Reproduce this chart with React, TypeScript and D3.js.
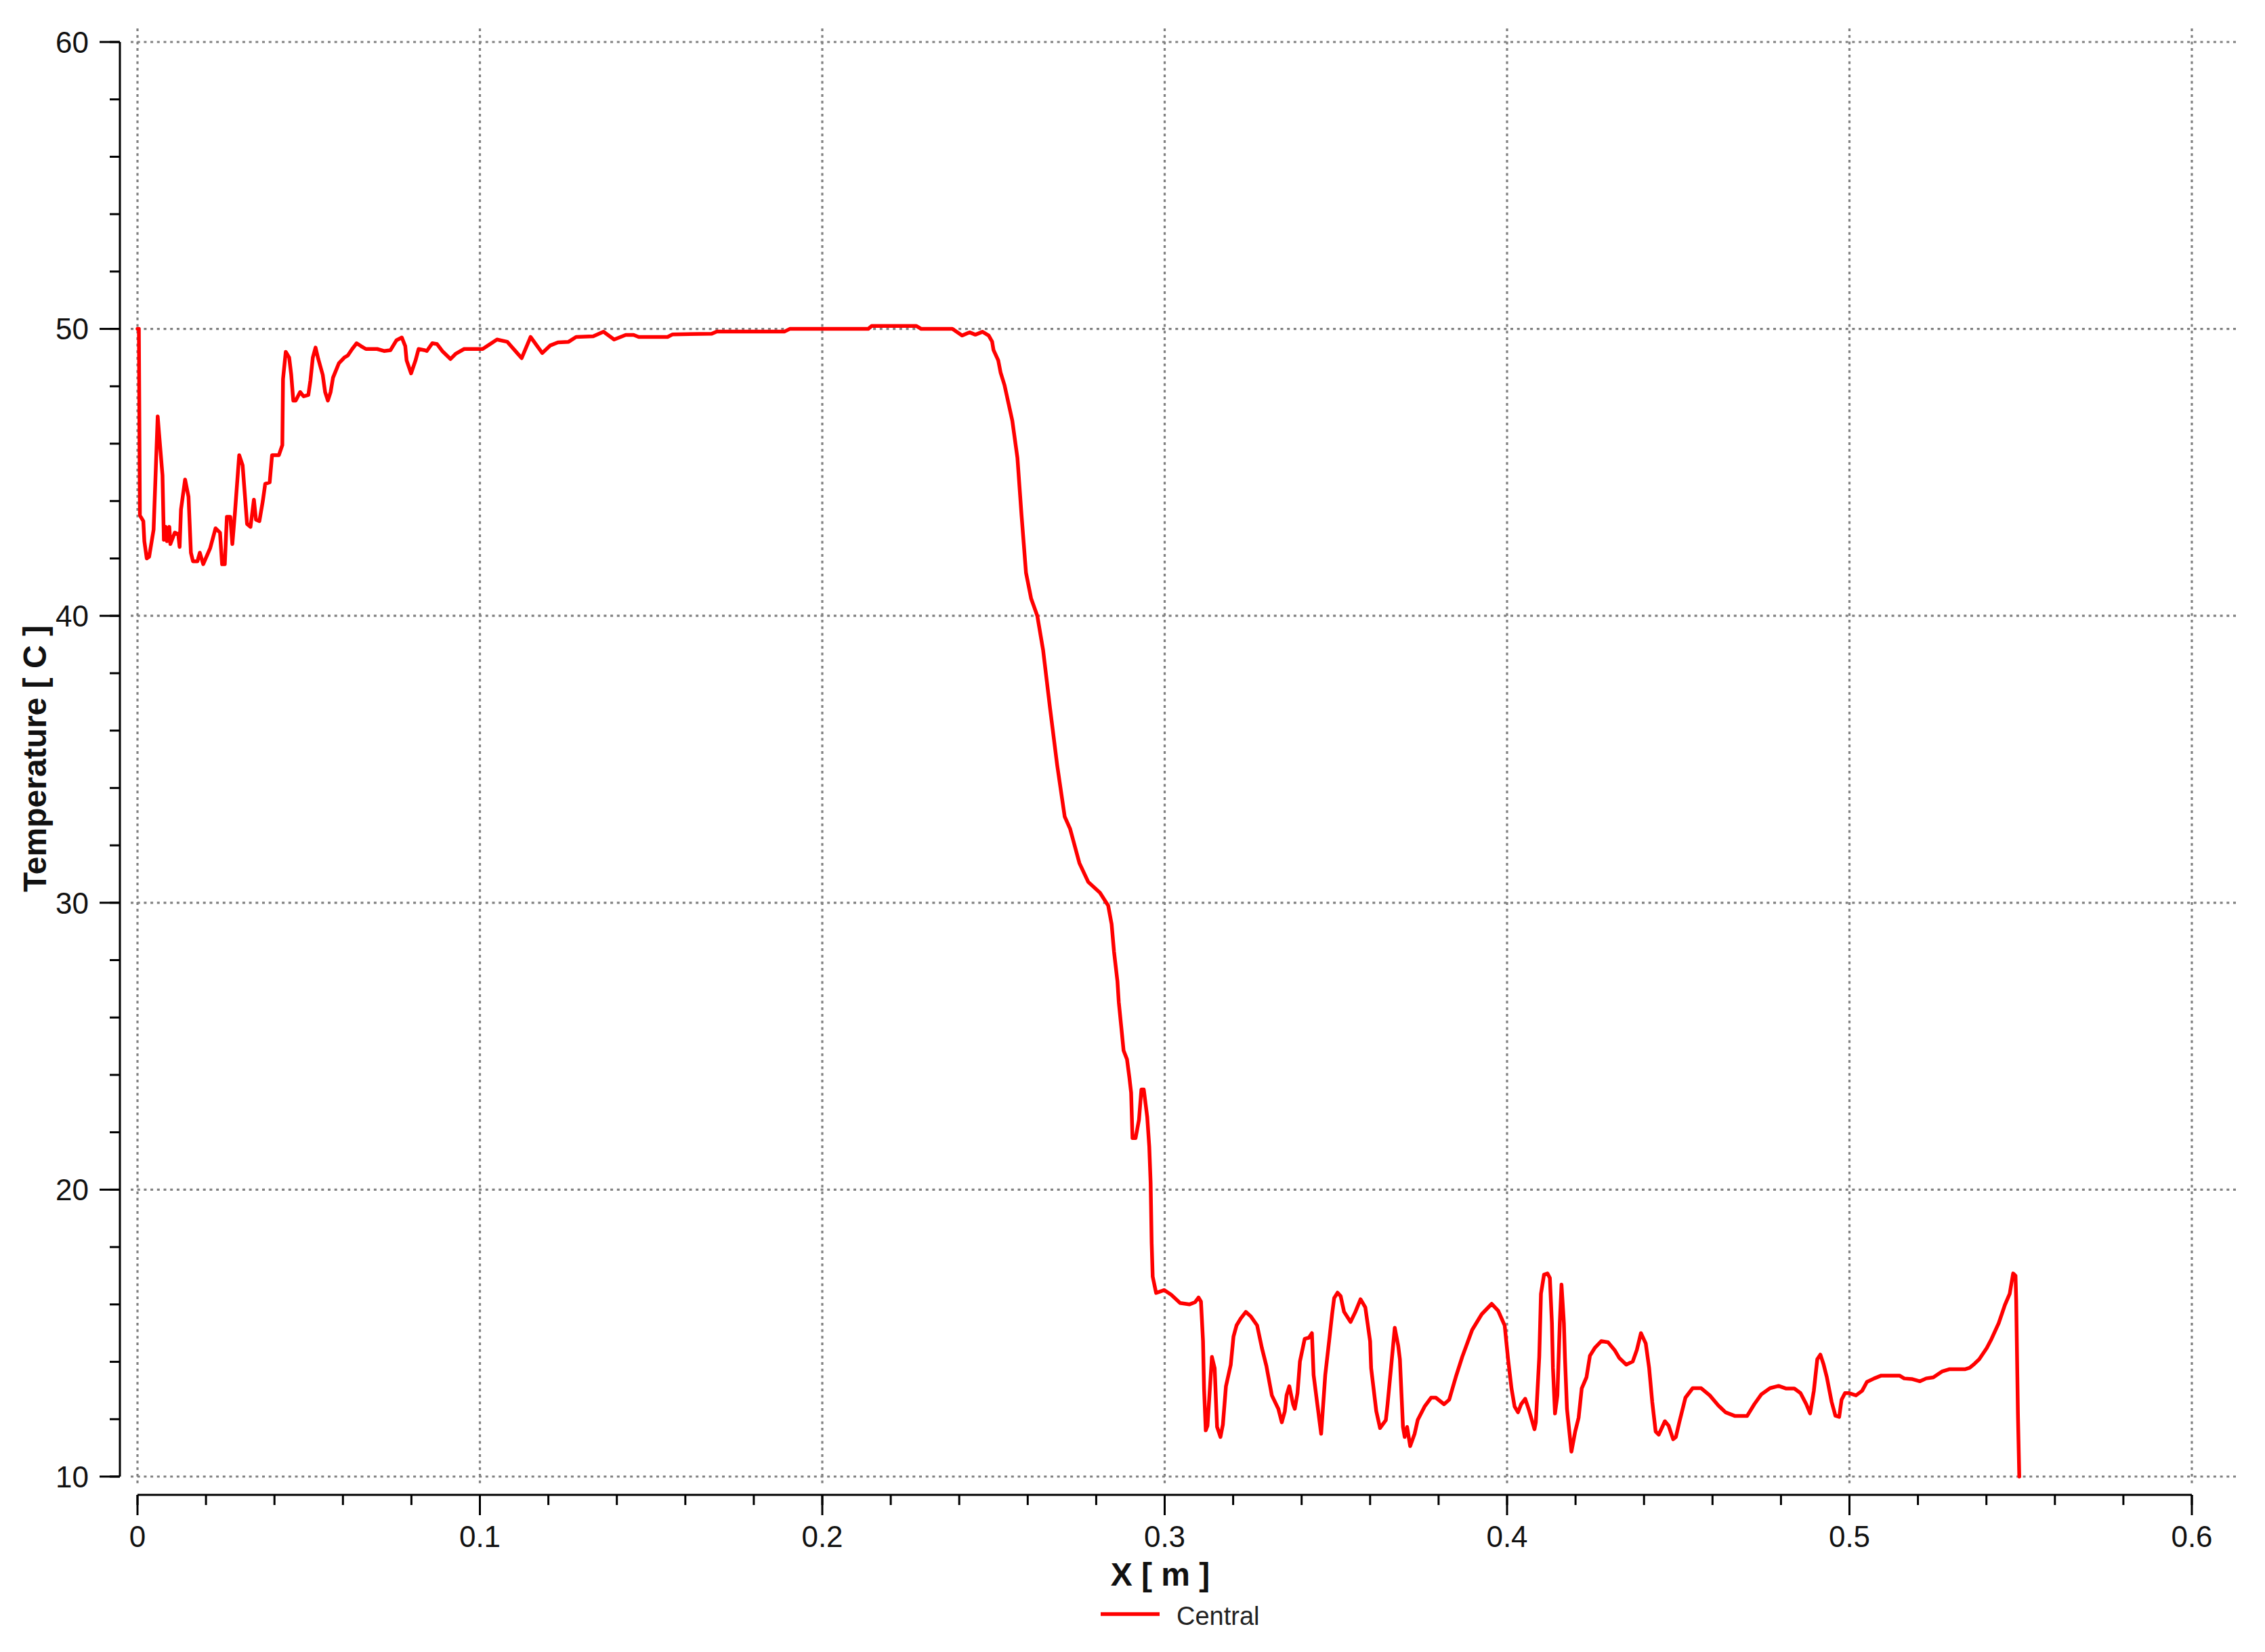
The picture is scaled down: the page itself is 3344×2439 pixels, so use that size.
import React from "react";
import * as d3 from "d3";

// ---- Data ----
const positionM: number[] = [
  0.0, 0.0004, 0.0007, 0.0017, 0.002, 0.0027, 0.0034, 0.0047, 0.0059, 0.0063,
  0.0073, 0.0077, 0.0083, 0.0086, 0.0093, 0.0096, 0.0109, 0.0119, 0.0123, 0.0127,
  0.0139, 0.0149, 0.0156, 0.0162, 0.0175, 0.0182, 0.0192, 0.0212, 0.0228, 0.0241,
  0.0247, 0.0255, 0.0261, 0.0271, 0.0277, 0.0284, 0.0297, 0.0307, 0.0314, 0.032,
  0.033, 0.034, 0.0346, 0.0356, 0.0366, 0.0373, 0.0386, 0.0393, 0.0413, 0.0423,
  0.0425, 0.0433, 0.0443, 0.0449, 0.0455, 0.0462, 0.0475, 0.0485, 0.0499, 0.0505,
  0.0512, 0.052, 0.0528, 0.0541, 0.0548, 0.0556, 0.0564, 0.0571, 0.0588, 0.0604,
  0.0614, 0.0627, 0.064, 0.0653, 0.0667, 0.07, 0.072, 0.0739, 0.0756, 0.0772,
  0.0782, 0.0786, 0.0799, 0.0812, 0.0821, 0.0838, 0.0845, 0.0861, 0.0875, 0.089,
  0.0914, 0.093, 0.0954, 0.1008, 0.105, 0.108, 0.1122, 0.1148, 0.1182, 0.1205,
  0.1228, 0.1259, 0.1281, 0.1331, 0.1361, 0.1392, 0.1426, 0.1449, 0.1464, 0.1548,
  0.1563, 0.1677, 0.1692, 0.189, 0.1905, 0.2134, 0.2144, 0.2275, 0.2289, 0.238,
  0.2408, 0.243, 0.2447, 0.2468, 0.2486, 0.2496, 0.25, 0.2514, 0.2521, 0.2532,
  0.2555, 0.257, 0.2582, 0.2595, 0.261, 0.2628, 0.2645, 0.2665, 0.2686, 0.2708,
  0.2724, 0.2751, 0.2777, 0.2811, 0.2835, 0.2845, 0.2852, 0.2862, 0.2866, 0.2873,
  0.288, 0.289, 0.2897, 0.2902, 0.2906, 0.2915, 0.2925, 0.2932, 0.2939, 0.2949,
  0.2955, 0.2959, 0.2962, 0.2965, 0.2975, 0.2999, 0.3019, 0.3045, 0.3072, 0.3089,
  0.3099, 0.3106, 0.3112, 0.3115, 0.312, 0.3125, 0.3138, 0.3146, 0.3153, 0.3163,
  0.317, 0.3179, 0.3193, 0.3201, 0.321, 0.3222, 0.3237, 0.3251, 0.327, 0.3284,
  0.3297, 0.3313, 0.3332, 0.3342, 0.3351, 0.3356, 0.3364, 0.3375, 0.338, 0.3388,
  0.3395, 0.3409, 0.3421, 0.343, 0.3435, 0.3445, 0.3457, 0.3469, 0.3481, 0.3489,
  0.3495, 0.3505, 0.3514, 0.3524, 0.3543, 0.3557, 0.3572, 0.3586, 0.36, 0.3603,
  0.3618, 0.3629, 0.3646, 0.3651, 0.3661, 0.3672, 0.3682, 0.3687, 0.3696, 0.3701,
  0.3708, 0.3717, 0.373, 0.3739, 0.3759, 0.3778, 0.3792, 0.3816, 0.3831, 0.385,
  0.3869, 0.3898, 0.3926, 0.3955, 0.3974, 0.3993, 0.4003, 0.4013, 0.4022, 0.4032,
  0.4041, 0.4053, 0.4065, 0.408, 0.4084, 0.4094, 0.4099, 0.4108, 0.4118, 0.4125,
  0.4131, 0.4134, 0.414, 0.4147, 0.4154, 0.4159, 0.4166, 0.4169, 0.4175, 0.4188,
  0.4199, 0.4209, 0.4218, 0.4232, 0.4242, 0.4256, 0.4275, 0.4295, 0.4314, 0.4328,
  0.4348, 0.4367, 0.4379, 0.4391, 0.4405, 0.4415, 0.4424, 0.4434, 0.4443, 0.4461,
  0.4472, 0.4485, 0.4493, 0.4503, 0.4521, 0.4542, 0.4567, 0.4592, 0.4617, 0.4638,
  0.4666, 0.4701, 0.4722, 0.4743, 0.4768, 0.4793, 0.4814, 0.4839, 0.4857, 0.4874,
  0.4885, 0.4896, 0.4906, 0.4915, 0.4924, 0.4934, 0.4948, 0.4959, 0.497, 0.4977,
  0.4987, 0.4998, 0.5019, 0.5037, 0.5051, 0.5072, 0.5093, 0.5146, 0.516, 0.5182,
  0.5206, 0.5224, 0.5245, 0.527, 0.5291, 0.5337, 0.5351, 0.5365, 0.5379, 0.5401,
  0.5415, 0.5436, 0.5454, 0.5468, 0.5478, 0.5485, 0.5487, 0.5492, 0.5496,
];

const temperatureC: number[] = [
  50.0, 50.0, 43.5, 43.3, 42.6, 42.0, 42.06, 43.0, 46.95, 46.35,
  44.9, 42.65, 43.1, 42.6, 43.1, 42.5, 42.9, 42.85, 42.4, 43.7,
  44.75, 44.15, 42.2, 41.9, 41.9, 42.2, 41.8, 42.35, 43.05, 42.9,
  41.8, 41.8, 43.45, 43.45, 42.5, 43.5, 45.6, 45.25, 44.15, 43.2,
  43.1, 44.05, 43.35, 43.3, 44.0, 44.6, 44.65, 45.6, 45.6, 45.95,
  48.25, 49.2, 49.0, 48.4, 47.5, 47.5, 47.8, 47.65, 47.7, 48.2,
  49.0, 49.35, 48.95, 48.4, 47.8, 47.5, 47.8, 48.3, 48.8, 49.0,
  49.07, 49.3, 49.5, 49.4, 49.3, 49.3, 49.23, 49.26, 49.6, 49.7,
  49.4, 48.9, 48.45, 48.9, 49.3, 49.26, 49.23, 49.5, 49.47, 49.23,
  48.95, 49.14, 49.3, 49.3, 49.63, 49.55, 48.98, 49.72, 49.16, 49.42,
  49.53, 49.55, 49.72, 49.74, 49.9, 49.63, 49.79, 49.79, 49.72, 49.72,
  49.81, 49.83, 49.91, 49.91, 50.0, 50.0, 50.1, 50.1, 50.0, 50.0,
  49.77, 49.88, 49.8, 49.9, 49.77, 49.56, 49.27, 48.9, 48.47, 48.05,
  46.8, 45.5, 43.5, 41.5, 40.6, 40.0, 38.8, 36.8, 34.8, 33.0,
  32.57, 31.38, 30.72, 30.35, 29.9, 29.26, 28.3, 27.27, 26.53, 25.7,
  24.85, 24.54, 23.9, 23.38, 21.8, 21.8, 22.44, 23.49, 23.49, 22.54,
  21.5, 20.23, 18.13, 16.97, 16.4, 16.5, 16.34, 16.05, 16.0, 16.08,
  16.24, 16.1, 14.72, 13.07, 11.61, 11.77, 14.17, 13.78, 11.73, 11.38,
  11.81, 13.15, 13.9, 14.88, 15.27, 15.51, 15.74, 15.59, 15.27, 14.48,
  13.86, 12.83, 12.36, 11.89, 12.28, 12.83, 13.15, 12.52, 12.36, 12.91,
  14.01, 14.8, 14.84, 15.0, 13.54, 12.6, 11.49, 13.54, 14.8, 15.66,
  16.22, 16.41, 16.29, 15.74, 15.39, 15.74, 16.18, 15.9, 14.72, 13.78,
  12.28, 11.69, 11.97, 12.52, 13.78, 15.19, 14.57, 14.09, 11.73, 11.38,
  11.73, 11.06, 11.49, 11.97, 12.44, 12.75, 12.75, 12.52, 12.68, 13.46,
  14.17, 15.11, 15.66, 16.02, 15.78, 15.27, 14.09, 13.07, 12.44, 12.24,
  12.52, 12.71, 12.28, 11.65, 11.89, 14.17, 16.37, 17.04, 17.08, 16.92,
  15.35, 13.78, 12.2, 12.83, 15.35, 16.69, 15.35, 14.17, 12.36, 10.87,
  11.57, 12.05, 13.07, 13.46, 14.21, 14.48, 14.72, 14.68, 14.41, 14.13,
  13.9, 14.01, 14.41, 15.0, 14.64, 13.78, 12.6, 11.57, 11.46, 11.93,
  11.77, 11.3, 11.38, 11.89, 12.75, 13.08, 13.08, 12.83, 12.48, 12.24,
  12.11, 12.11, 12.52, 12.87, 13.08, 13.16, 13.07, 13.07, 12.91, 12.52,
  12.2, 12.99, 14.09, 14.25, 13.93, 13.46, 12.6, 12.12, 12.08, 12.68,
  12.91, 12.91, 12.83, 12.99, 13.3, 13.42, 13.52, 13.52, 13.42, 13.4,
  13.32, 13.42, 13.46, 13.66, 13.74, 13.74, 13.79, 13.93, 14.09, 14.48,
  14.8, 15.35, 15.98, 16.37, 17.08, 17.0, 16.14, 12.2, 10.0,
];

const xMajorTicks: number[] = [0, 0.1, 0.2, 0.3, 0.4, 0.5, 0.6];
const xTickLabels: string[] = ["0", "0.1", "0.2", "0.3", "0.4", "0.5", "0.6"];
const yMajorTicks: number[] = [10, 20, 30, 40, 50, 60];
const yTickLabels: string[] = ["10", "20", "30", "40", "50", "60"];
const seriesName = "Central";
const xTitle = "X [ m ]";
const yTitle = "Temperature [ C ]";

const FONT = "'Liberation Sans', Arial, sans-serif";

export default function App() {
  const W = 3344;
  const H = 2439;
  const x = d3.scaleLinear().domain([0, 0.6]).range([203, 3236]);
  const y = d3.scaleLinear().domain([10, 60]).range([2180, 62]);
  const xMinor = x.ticks(30);
  const yMinor = y.ticks(25);

  const axisX = 177; // y-axis line position
  const axisY = 2207; // x-axis line position

  const pts: [number, number][] = positionM.map((p, i) => [p, temperatureC[i]]);
  const line = d3
    .line<[number, number]>()
    .x((d) => x(d[0]))
    .y((d) => y(d[1]));

  const gridColor = "#808080";
  const gridDash = "4 5.7";

  const gxMin = x(0) - 10;
  const gxMax = x(0.6) + 66;
  const gyMin = y(60) - 20;
  const gyMax = y(10) + 10;

  return (
    <svg
      width={W}
      height={H}
      viewBox={`0 0 ${W} ${H}`}
      style={{ position: "absolute", left: 0, top: 0, display: "block", background: "#fff" }}
    >
      <rect x={0} y={0} width={W} height={H} fill="#fff" />
      {/* grid */}
      <g>
        {yMajorTicks.map((v) => (
          <line
            key={"gy" + v}
            x1={gxMin}
            x2={gxMax}
            y1={y(v)}
            y2={y(v)}
            stroke={gridColor}
            strokeWidth={3.2}
            strokeDasharray={gridDash}
          />
        ))}
        {xMajorTicks.map((v) => (
          <line
            key={"gx" + v}
            x1={x(v)}
            x2={x(v)}
            y1={gyMin}
            y2={gyMax}
            stroke={gridColor}
            strokeWidth={3.2}
            strokeDasharray={gridDash}
          />
        ))}
      </g>

      {/* y axis */}
      <g stroke="#000" strokeWidth={3}>
        <line x1={axisX} x2={axisX} y1={y(60)} y2={y(10)} />
        {yMinor.map((v) => (
          <line key={"ymn" + v} x1={axisX - 15} x2={axisX} y1={y(v)} y2={y(v)} />
        ))}
        {yMajorTicks.map((v) => (
          <line key={"ymj" + v} x1={axisX - 30} x2={axisX} y1={y(v)} y2={y(v)} />
        ))}
      </g>
      <g fontFamily={FONT} fontSize={44} fill="#111" textAnchor="end">
        {yMajorTicks.map((v, i) => (
          <text key={"yl" + v} x={131} y={y(v)} dy="0.36em">
            {yTickLabels[i]}
          </text>
        ))}
      </g>

      {/* x axis */}
      <g stroke="#000" strokeWidth={3}>
        <line x1={x(0)} x2={x(0.6)} y1={axisY} y2={axisY} />
        {xMinor.map((v) => (
          <line key={"xmn" + v} x1={x(v)} x2={x(v)} y1={axisY} y2={axisY + 15} />
        ))}
        {xMajorTicks.map((v) => (
          <line key={"xmj" + v} x1={x(v)} x2={x(v)} y1={axisY} y2={axisY + 30} />
        ))}
      </g>
      <g fontFamily={FONT} fontSize={44} fill="#111" textAnchor="middle">
        {xMajorTicks.map((v, i) => (
          <text key={"xl" + v} x={x(v)} y={2284}>
            {xTickLabels[i]}
          </text>
        ))}
      </g>

      {/* titles */}
      <text
        x={1713}
        y={2341}
        textAnchor="middle"
        fontFamily={FONT}
        fontSize={48}
        fontWeight="bold"
        fill="#111"
      >
        {xTitle}
      </text>
      <text
        transform={`translate(51,1120) rotate(-90)`}
        textAnchor="middle"
        dy="0.36em"
        fontFamily={FONT}
        fontSize={48}
        fontWeight="bold"
        fill="#111"
      >
        {yTitle}
      </text>

      {/* curve */}
      <path
        d={line(pts) || ""}
        fill="none"
        stroke="#ff0000"
        strokeWidth={5.5}
        strokeLinejoin="round"
        strokeLinecap="round"
      />

      {/* legend */}
      <line x1={1625} x2={1712} y1={2383} y2={2383} stroke="#ff0000" strokeWidth={5.5} />
      <text x={1737} y={2399} fontFamily={FONT} fontSize={38} fill="#222">
        {seriesName}
      </text>
    </svg>
  );
}
